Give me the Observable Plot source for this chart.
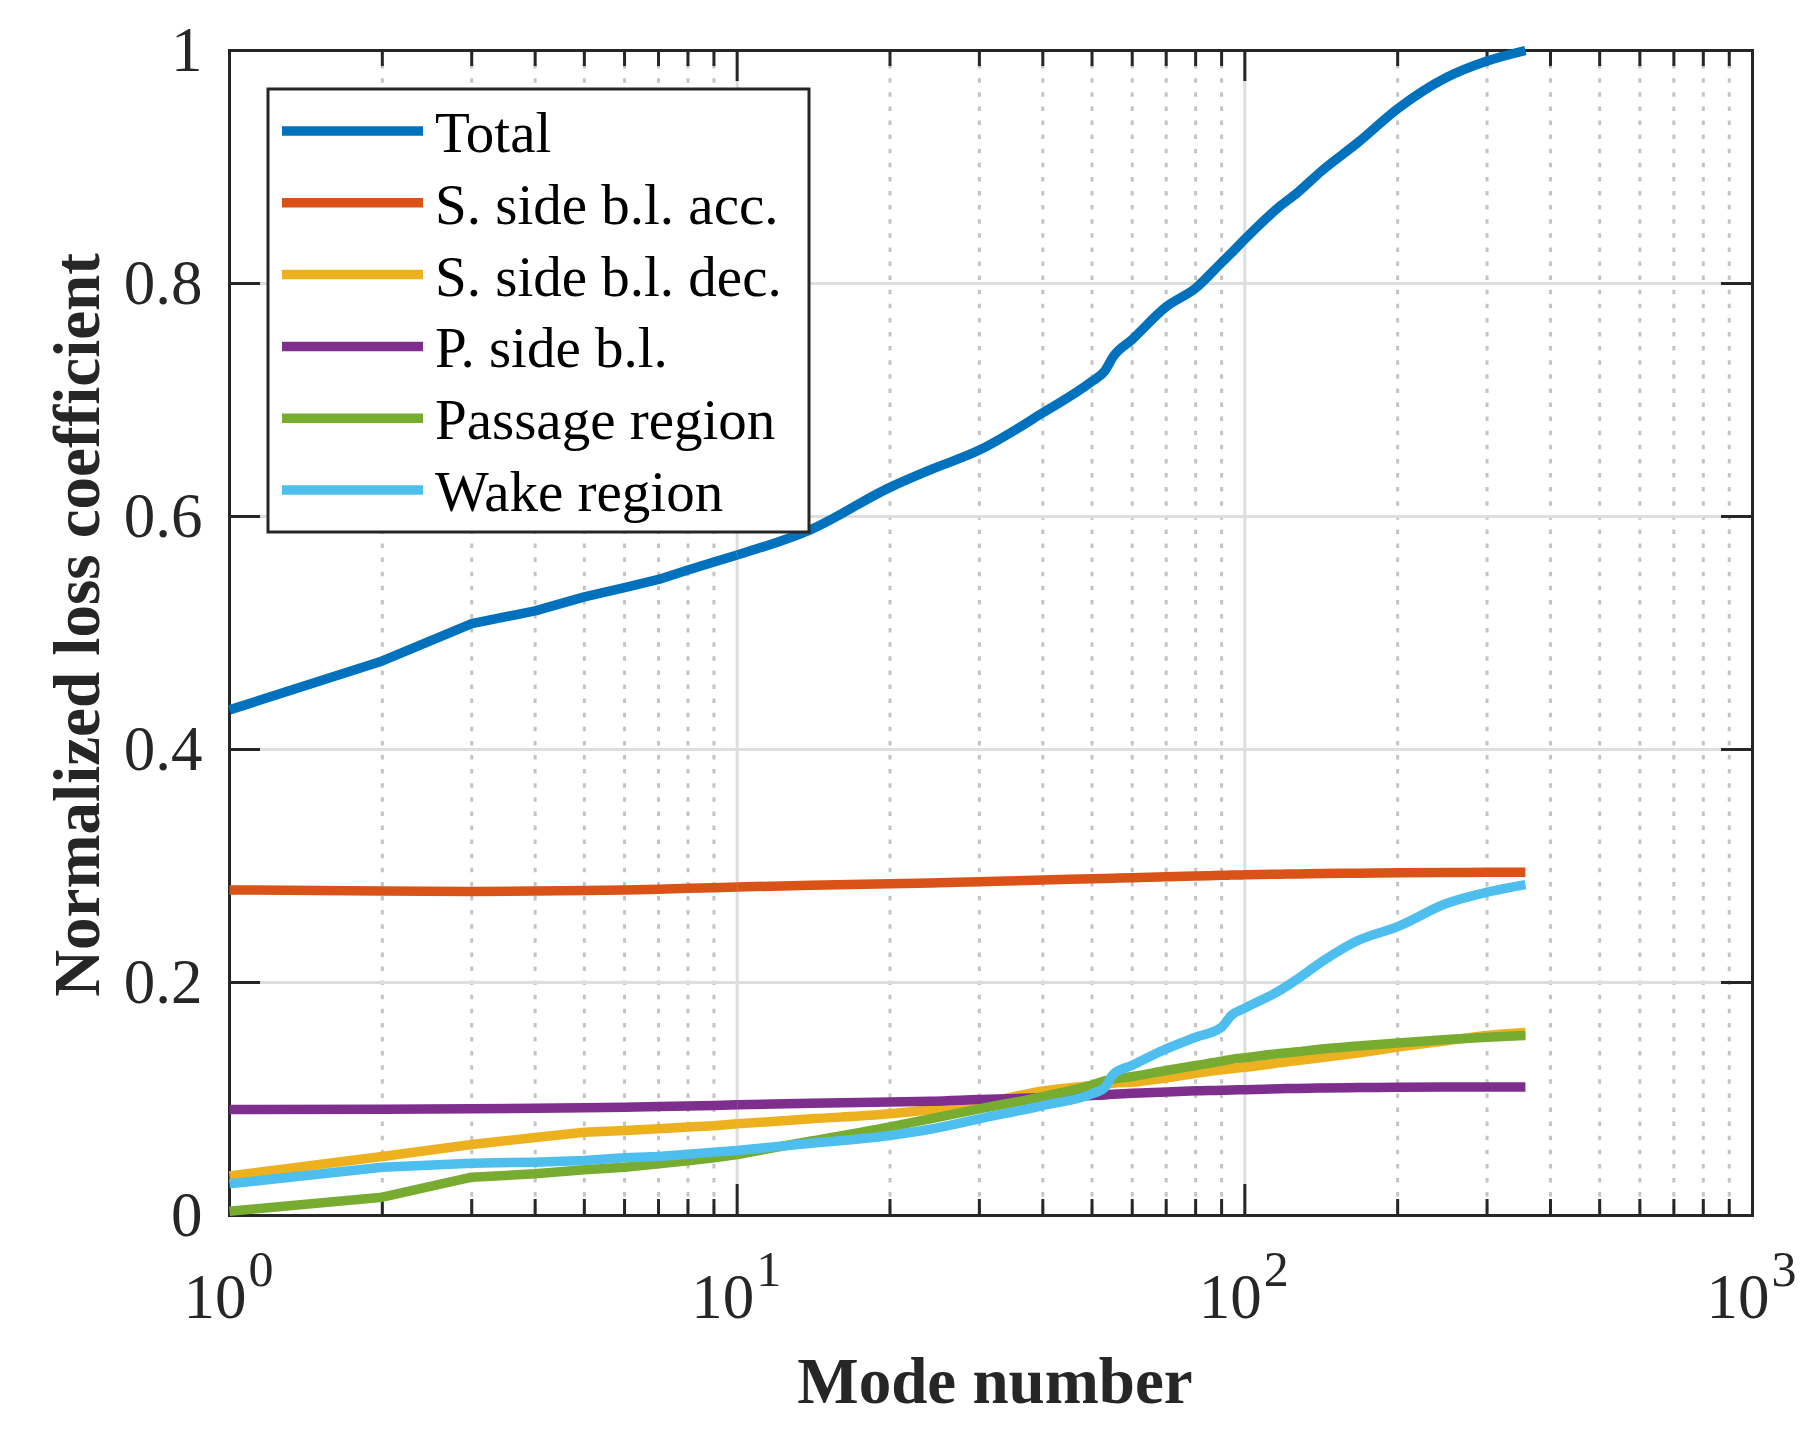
<!DOCTYPE html>
<html><head><meta charset="utf-8">
<script src="https://cdn.jsdelivr.net/npm/d3@7"></script>
<script src="https://cdn.jsdelivr.net/npm/@observablehq/plot@0.6"></script>
<style>
html,body{margin:0;padding:0;background:#fff;}
#wrap{position:relative;width:1811px;height:1449px;}
#wrap svg{display:block;}
#legend{position:absolute;left:0;top:0;pointer-events:none;}
</style></head><body><div id="wrap"></div>
<script>
// ---- data ----
const modes = [1,2,3,4,5,6,7,8,9,10,14,20,24,30,40,50,53,55,60,70,80,90,94,100,117,127,142,167,200,250,300,357];
const total   = [0.434,0.476,0.508,0.519,0.531,0.539,0.546,0.554,0.561,0.567,0.589,0.625,0.640,0.657,0.689,0.716,0.725,0.737,0.752,0.780,0.796,0.818,0.826,0.838,0.866,0.878,0.897,0.921,0.950,0.977,0.991,1.000];
const sAcc    = [0.2795,0.2785,0.2782,0.2785,0.2790,0.2795,0.2800,0.2808,0.2814,0.2820,0.2835,0.2847,0.2855,0.2865,0.2880,0.2890,0.2893,0.2895,0.2900,0.2908,0.2914,0.2920,0.2922,0.2924,0.2930,0.2932,0.2935,0.2938,0.2941,0.2944,0.2946,0.2947];
const sDec    = [0.034,0.0506,0.061,0.067,0.0715,0.073,0.0744,0.076,0.077,0.0787,0.083,0.0873,0.0907,0.096,0.107,0.1116,0.1128,0.1136,0.1144,0.118,0.122,0.125,0.126,0.1273,0.131,0.133,0.1355,0.1395,0.1445,0.150,0.1545,0.157];
const pSide   = [0.091,0.0912,0.0916,0.092,0.0925,0.093,0.0935,0.094,0.0945,0.095,0.0963,0.0975,0.098,0.0995,0.1012,0.103,0.1035,0.104,0.105,0.106,0.107,0.1075,0.1078,0.108,0.1088,0.1091,0.1095,0.1098,0.1100,0.1102,0.1103,0.1104];
const passage = [0.0037,0.0157,0.0329,0.0358,0.0392,0.0415,0.0443,0.047,0.0495,0.0524,0.064,0.076,0.083,0.0916,0.102,0.112,0.1155,0.117,0.1193,0.1245,0.1288,0.1325,0.134,0.1354,0.139,0.1405,0.143,0.1455,0.148,0.151,0.153,0.1545];
const wake    = [0.0272,0.0415,0.0449,0.0458,0.0472,0.0495,0.0506,0.0525,0.0544,0.0558,0.062,0.0687,0.074,0.083,0.0944,0.1045,0.110,0.121,0.129,0.143,0.153,0.1616,0.1717,0.178,0.193,0.203,0.218,0.236,0.248,0.268,0.2775,0.284];

const seriesNames  = ["Total","S. side b.l. acc.","S. side b.l. dec.","P. side b.l.","Passage region","Wake region"];
const seriesColors = ["#0072BD","#D95319","#EDB120","#7E2F8E","#77AC30","#4DBEEE"];
const seriesValues = [total, sAcc, sDec, pSide, passage, wake];

const yTicks = [0,0.2,0.4,0.6,0.8,1];
const yTickLabels = ["0","0.2","0.4","0.6","0.8","1"];
const xMajor = [1,10,100,1000];
const xExponents = ["0","1","2","3"];
const xMinor = [2,3,4,5,6,7,8,9,20,30,40,50,60,70,80,90,200,300,400,500,600,700,800,900];
const xLabel = "Mode number";
const yLabel = "Normalized loss coefficient";

// ---- layout ----
const W = 1811, H = 1449, mL = 229, mR = 59, mT = 50, mB = 234;
const pw = W - mL - mR, ph = H - mT - mB;
const ink = "#262626";
const font = "'Liberation Serif','Times New Roman',Times,serif";
const lw = 9.5;

const tables = seriesValues.map((vals, k) =>
  modes.map((m, i) => ({mode: m, value: vals[i], series: seriesNames[k]})));

// low modes are drawn point-to-point, the dense high-mode part smoothly
const lineMarks = [];
tables.forEach((t, k) => {
  lineMarks.push(Plot.line(t.filter(d => d.mode <= 10), {x: "mode", y: "value", stroke: seriesColors[k], strokeWidth: lw, strokeLinejoin: "round", strokeLinecap: "butt"}));
  lineMarks.push(Plot.line(t.filter(d => d.mode >= 10), {x: "mode", y: "value", curve: "monotone-x", stroke: seriesColors[k], strokeWidth: lw, strokeLinejoin: "round", strokeLinecap: "butt"}));
});

const marks = [
  Plot.ruleX(xMinor, {x: d => d, stroke: "#c4c4c4", strokeWidth: 3, strokeDasharray: "4.5,9.6"}),
  Plot.ruleX(xMajor.slice(1, -1), {x: d => d, stroke: "#dedede", strokeWidth: 3}),
  Plot.ruleY(yTicks.slice(1, -1), {y: d => d, stroke: "#dedede", strokeWidth: 3}),
  Plot.ruleY(yTicks, {y: d => d, stroke: ink, strokeWidth: 3, insetRight: pw - 31}),
  Plot.ruleY(yTicks, {y: d => d, stroke: ink, strokeWidth: 3, insetLeft: pw - 31}),
  Plot.ruleX(xMajor, {x: d => d, stroke: ink, strokeWidth: 3, insetTop: ph - 31}),
  Plot.ruleX(xMajor, {x: d => d, stroke: ink, strokeWidth: 3, insetBottom: ph - 31}),
  Plot.ruleX(xMinor, {x: d => d, stroke: ink, strokeWidth: 3, insetTop: ph - 16}),
  Plot.ruleX(xMinor, {x: d => d, stroke: ink, strokeWidth: 3, insetBottom: ph - 16}),
  Plot.frame({stroke: ink, strokeWidth: 3}),
  ...lineMarks,
  Plot.text(yTicks, {y: d => d, frameAnchor: "left", text: (d, i) => yTickLabels[i], textAnchor: "end", dx: -27, fontSize: 63, fill: ink}),
  Plot.text(xMajor, {x: d => d, frameAnchor: "bottom", text: () => "10", textAnchor: "end", lineAnchor: "bottom", dx: 17, dy: 102, fontSize: 63, fill: ink}),
  Plot.text(xMajor, {x: d => d, frameAnchor: "bottom", text: (d, i) => xExponents[i], textAnchor: "start", lineAnchor: "bottom", dx: 19, dy: 70, fontSize: 50, fill: ink}),
  Plot.text([xLabel], {frameAnchor: "bottom", text: d => d, lineAnchor: "bottom", dy: 187, dx: 4, fontSize: 65, fontWeight: "bold", fill: ink}),
  Plot.text([yLabel], {frameAnchor: "left", text: d => d, rotate: -90, lineAnchor: "bottom", textAnchor: "middle", dx: -131, dy: -8, fontSize: 65, fontWeight: "bold", fill: ink})
];

const chart = Plot.plot({
  width: W, height: H,
  marginLeft: mL, marginRight: mR, marginTop: mT, marginBottom: mB,
  x: {type: "log", domain: [1, 1000], axis: null},
  y: {domain: [0, 1], axis: null},
  style: {fontFamily: font, background: "white", overflow: "visible"},
  marks
});
const wrap = document.getElementById("wrap");
wrap.appendChild(chart);

// ---- legend (inside the axes, top-left) ----
const leg = d3.select(wrap).append("svg").attr("id", "legend").attr("width", W).attr("height", H);
const bx = 268, by = 89, bw = 541, bh = 443, row0 = 131, rowStep = 71.8;
leg.append("rect").attr("x", bx).attr("y", by).attr("width", bw).attr("height", bh)
  .attr("fill", "white").attr("stroke", ink).attr("stroke-width", 3);
seriesNames.forEach((name, i) => {
  const cy = row0 + i * rowStep;
  leg.append("line").attr("x1", 282).attr("x2", 423).attr("y1", cy).attr("y2", cy)
    .attr("stroke", seriesColors[i]).attr("stroke-width", lw);
  leg.append("text").attr("x", 435).attr("y", cy + 21).text(name)
    .attr("font-family", font).attr("font-size", 57).attr("fill", "#000");
});
</script></body></html>
